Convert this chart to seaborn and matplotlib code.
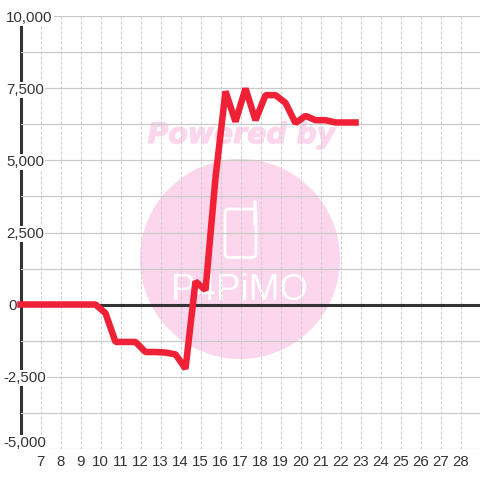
import matplotlib
matplotlib.use("Agg")
import matplotlib.pyplot as plt
import matplotlib.patheffects as pe
import seaborn as sns
import pandas as pd
from matplotlib.patches import Circle, FancyBboxPatch
from matplotlib.transforms import ScaledTranslation

hours = [6.0, 6.75, 7.75, 8.75, 9.75, 10.25, 10.75, 11.25, 11.75, 12.25, 12.75, 13.25, 13.75,
         14.25, 14.75, 15.25, 15.75, 16.25, 16.75, 17.25, 17.75, 18.25, 18.75, 19.25, 19.75,
         20.25, 20.75, 21.25, 21.75, 22.25, 22.75]
values = [0, 0, 0, 0, 0, -300, -1300, -1300, -1300, -1650, -1650, -1670, -1730,
          -2230, 800, 500, 4400, 7400, 6350, 7500, 6400, 7270, 7270, 7000, 6300,
          6550, 6400, 6400, 6320, 6320, 6320]
x_ticks = list(range(7, 29))
y_major = [-5000, -2500, 0, 2500, 5000, 7500, 10000]
y_labels = ["-5,000", "-2,500", "0", "2,500", "5,000", "7,500", "10,000"]
y_minor = [-3750, -1250, 1250, 3750, 6250, 8750]

GRID = "#c9c9c9"
DARK = "#333333"
RED = "#f02036"
PINK = "#fbd6ec"

sns.set_theme(style="white", rc={"font.family": ["Liberation Sans", "DejaVu Sans"]})
fig = plt.figure(figsize=(4.8, 4.8), dpi=100, facecolor="white")
ax = fig.add_axes([20.5 / 480, 31.5 / 480, 460 / 480, 432 / 480])
ax.patch.set_visible(False)

df = pd.DataFrame({"hour": hours, "value": values})
sns.lineplot(data=df, x="hour", y="value", ax=ax, color=RED, linewidth=4.7,
             solid_joinstyle="bevel", solid_capstyle="projecting",
             errorbar=None, zorder=3, clip_on=False)

ax.set_xlim(6, 29)
ax.set_ylim(-5000, 10000)
ax.set_xlabel("")
ax.set_ylabel("")
ax.set_xticks(x_ticks, [str(t) for t in x_ticks])
ax.set_yticks(y_major, y_labels)
ax.set_yticks(y_minor, minor=True)
ax.tick_params(axis="both", which="both", length=0, labelsize=10.8, labelcolor=DARK)
ax.tick_params(axis="x", pad=5.0)
ax.tick_params(axis="y", pad=10.4)
ax.set_axisbelow("line")
ax.grid(axis="y", which="both", color=GRID, linewidth=0.9, linestyle="-")
ax.grid(axis="x", which="major", color="#d0d0d0", linewidth=0.8, linestyle=(0, (2.7, 1.8)))

for s in ["top", "right", "bottom"]:
    ax.spines[s].set_visible(False)
ax.spines["left"].set_color(DARK)
ax.spines["left"].set_linewidth(2.2)
ax.spines["left"].set_zorder(1)
ax.axhline(0, color=DARK, linewidth=2.2, zorder=1.6)

offsets = {"0": (2, 0), "-2,500": (-3, 0), "-5,000": (-3, 7)}
for lab in ax.get_yticklabels():
    lab.set_ha("left")
    lab.set_bbox(dict(facecolor="white", edgecolor="none", pad=1.0))
    dx, dy = offsets.get(lab.get_text(), (0, 0))
    if dx or dy:
        lab.set_transform(lab.get_transform() + ScaledTranslation(dx / 100, dy / 100, fig.dpi_scale_trans))

# Watermark, placed in figure inches (origin bottom-left)
px = fig.dpi_scale_trans
ax.add_patch(Circle((2.40, 4.80 - 2.59), 1.0, transform=px, facecolor=PINK, edgecolor="none",
                    zorder=0.5, clip_on=False))
ax.text(2.415, 4.80 - 1.35, "Powered by", transform=px, ha="center", va="center", color=PINK,
        fontsize=20.4, fontweight="bold", fontstyle="italic", family="DejaVu Sans", zorder=0.5,
        path_effects=[pe.withStroke(linewidth=0.9, foreground=PINK)])
ax.add_patch(FancyBboxPatch((2.25, 4.80 - 2.575), 0.31, 0.485, boxstyle="round,pad=0,rounding_size=0.04",
                            transform=px, facecolor="none", edgecolor="white", linewidth=2.0,
                            zorder=0.6, clip_on=False))
ax.add_patch(FancyBboxPatch((2.54, 4.80 - 2.25), 0.02, 0.24, boxstyle="round,pad=0,rounding_size=0.01",
                            transform=px, facecolor="white", edgecolor="white", linewidth=1.0,
                            zorder=0.6, clip_on=False))
ax.text(2.39, 4.80 - 2.90, "P4PiMO", transform=px, ha="center", va="center", color="white",
        fontsize=26.5, family="Liberation Sans", zorder=0.6)

fig.savefig("out.png", dpi=100, facecolor="white")
